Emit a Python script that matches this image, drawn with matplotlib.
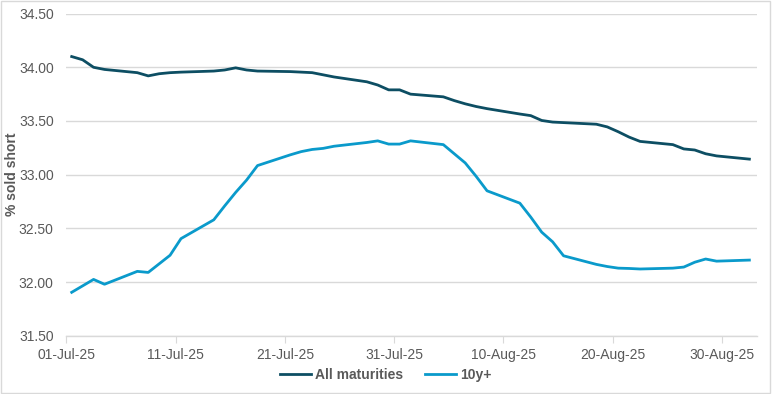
import numpy as np
import pandas as pd
import matplotlib
matplotlib.use("Agg")
import matplotlib.pyplot as plt
import matplotlib.dates as mdates
from matplotlib.patches import Rectangle

plt.rcParams['font.family'] = ['Liberation Sans Narrow', 'Liberation Sans', 'DejaVu Sans']

# business days 01-Jul-25 .. 01-Sep-25
dates = pd.bdate_range('2025-07-01', '2025-09-01')

all_maturities = [34.10, 34.07, 34.00, 33.98,
                  33.95, 33.92, 33.94, 33.95, 33.955,
                  33.965, 33.975, 33.995, 33.975, 33.965,
                  33.96, 33.955, 33.95, 33.93, 33.91,
                  33.865, 33.835, 33.79, 33.79, 33.75,
                  33.725, 33.69, 33.66, 33.635, 33.615,
                  33.565, 33.55, 33.505, 33.49, 33.485,
                  33.47, 33.445, 33.40, 33.35, 33.31,
                  33.28, 33.24, 33.23, 33.195, 33.175,
                  33.145]

ten_y_plus = [31.905, 31.965, 32.025, 31.98,
              32.10, 32.09, 32.17, 32.25, 32.405,
              32.58, 32.71, 32.835, 32.95, 33.085,
              33.185, 33.215, 33.235, 33.245, 33.265,
              33.30, 33.315, 33.285, 33.285, 33.315,
              33.28, 33.195, 33.11, 32.985, 32.85,
              32.735, 32.605, 32.465, 32.375, 32.245,
              32.165, 32.145, 32.13, 32.127, 32.122,
              32.13, 32.14, 32.185, 32.215, 32.195,
              32.205]

tick_dates = pd.date_range('2025-07-01', periods=7, freq='10D')
y_ticks = [31.5, 32.0, 32.5, 33.0, 33.5, 34.0, 34.5]

DARK = '#0D4E63'
LIGHT = '#0A9ACB'
TXT = '#595959'

fig = plt.figure(figsize=(7.72, 3.94), dpi=100)
ax = fig.add_axes([0.0858, 0.1477, 0.9806 - 0.0858, 0.9655 - 0.1477])

# excel date axis puts each point in the middle of its day slot
x = dates + pd.Timedelta(hours=12)
ax.plot(x, all_maturities, color=DARK, lw=2.0, label='All maturities', solid_joinstyle='round')
ax.plot(x, ten_y_plus, color=LIGHT, lw=2.0, label='10y+', solid_joinstyle='round')

ax.set_ylim(31.5, 34.5)
ax.set_yticks(y_ticks)
ax.set_yticklabels(['%.2f' % v for v in y_ticks])
ax.set_xlim(pd.Timestamp('2025-07-01'), pd.Timestamp('2025-07-01') + pd.Timedelta(days=63.2))
ax.set_xticks(tick_dates)
ax.xaxis.set_major_formatter(mdates.DateFormatter('%d-%b-%y'))

ax.grid(axis='y', color='#D9D9D9', lw=1.0)
ax.set_axisbelow(True)
for s in ['top', 'right', 'left']:
    ax.spines[s].set_visible(False)
ax.spines['bottom'].set_color('#D9D9D9')
ax.spines['bottom'].set_linewidth(1.0)
ax.tick_params(axis='y', length=0, pad=9, labelsize=10, labelcolor=TXT)
ax.tick_params(axis='x', length=5, color='#D9D9D9', pad=4, labelsize=10, labelcolor=TXT)

fig.text(12 / 772, 0.5565, '% sold short', rotation=90, ha='center', va='center',
         fontsize=10, fontweight='bold', color=TXT)

leg = fig.legend(loc='center', bbox_to_anchor=(0.5, 0.048), ncol=2, frameon=False,
                 prop={'weight': 'bold', 'size': 10}, handlelength=2.2,
                 handletextpad=0.3, columnspacing=1.6)
for t in leg.get_texts():
    t.set_color(TXT)

fig.patches.append(Rectangle((0.001, 0.002), 0.997, 0.996, transform=fig.transFigure,
                             fill=False, edgecolor='#D9D9D9', lw=1.0))

fig.savefig('out.png', dpi=100)
